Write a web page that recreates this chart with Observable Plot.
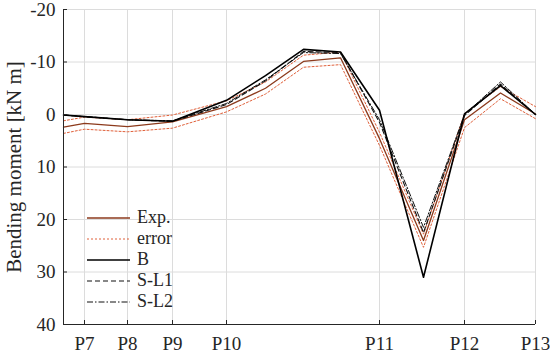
<!DOCTYPE html>
<html>
<head>
<meta charset="utf-8">
<script src="https://cdn.jsdelivr.net/npm/d3@7"></script>
<script src="https://cdn.jsdelivr.net/npm/@observablehq/plot@0.6"></script>
<style>
  html, body { margin: 0; padding: 0; background: #fff; }
  #wrap { position: relative; width: 550px; height: 355px; font-family: "Liberation Serif", "Times New Roman", serif; }
  #chart svg, #chart svg text { font-family: "Liberation Serif", "Times New Roman", serif !important; }
  #legend { position: absolute; left: 86px; top: 207px; font-size: 18px; color: #262626; line-height: 21px; }
  #legend .row { display: flex; align-items: center; height: 21px; }
  #legend svg { margin-right: 6px; }
</style>
</head>
<body>
<div id="wrap"><div id="chart"></div><div id="legend"></div></div>
<script>
// positions along the beam (arbitrary units)
const xPos = [0, 21, 64, 109, 163, 202, 240, 277, 316, 360, 401, 437, 472];
const xTickPos = [21, 64, 109, 163, 316, 401, 472];
const xTickLabels = ["P7", "P8", "P9", "P10", "P11", "P12", "P13"];
const yTicks = [-20, -10, 0, 10, 20, 30, 40];
const yLabel = "Bending moment [kN m]";

const expVals  = [2.4, 1.7, 2.3, 1.4, -1.5, -5.0, -10.1, -10.8, 4.6, 24.0, 1.0, -4.1, -0.1];
const errUpper = [1.2, 0.5, 1.0, 0.1, -2.6, -6.2, -11.3, -11.9, 3.4, 22.8, -0.2, -5.3, -1.5];
const errLower = [3.6, 2.8, 3.3, 2.6, -0.5, -3.9, -9.0, -9.5, 5.9, 25.3, 2.5, -3.0, 0.8];
const bVals    = [0.1, 0.4, 1.0, 1.3, -2.7, -7.4, -12.4, -11.9, -0.8, 31.0, -0.1, -5.5, 0.0];
const sl1Vals  = [0.1, 0.4, 1.0, 1.3, -1.9, -6.4, -12.0, -11.8, 1.5, 22.5, 0.2, -5.8, 0.0];
const sl2Vals  = [0.1, 0.4, 1.0, 1.2, -2.1, -6.6, -11.8, -11.6, 1.0, 21.5, 0.0, -6.2, 0.0];

const expColor = "#8c3a1c";
const errColor = "#e0603a";
const serif = "Liberation Serif";

const toRows = vals => vals.map((v, i) => ({x: xPos[i], y: v}));

const chart = Plot.plot({
  width: 550,
  height: 355,
  marginLeft: 63,
  marginRight: 15,
  marginTop: 9,
  marginBottom: 31,
  style: "font-family: 'Liberation Serif', serif; font-size: 19px; color: #262626; background: #fff;",
  x: {domain: [0, 472]},
  y: {domain: [-20, 40], reverse: true},
  marks: [
    Plot.gridX(xTickPos, {stroke: "#dcdcdc", strokeOpacity: 1}),
    Plot.gridY(yTicks, {stroke: "#dcdcdc", strokeOpacity: 1}),
    Plot.line(toRows(errUpper), {x: "x", y: "y", stroke: errColor, strokeWidth: 1, strokeDasharray: "2,2"}),
    Plot.line(toRows(errLower), {x: "x", y: "y", stroke: errColor, strokeWidth: 1, strokeDasharray: "2,2"}),
    Plot.line(toRows(expVals), {x: "x", y: "y", stroke: expColor, strokeWidth: 1.3}),
    Plot.line(toRows(sl2Vals), {x: "x", y: "y", stroke: "#111", strokeWidth: 1, strokeDasharray: "6,2,1.5,2"}),
    Plot.line(toRows(sl1Vals), {x: "x", y: "y", stroke: "#111", strokeWidth: 1.1, strokeDasharray: "5,3"}),
    Plot.line(toRows(bVals), {x: "x", y: "y", stroke: "#000", strokeWidth: 1.6}),
    Plot.ruleX([0], {stroke: "#262626"}),
    Plot.ruleY([40], {stroke: "#262626"}),
    Plot.axisX(xTickPos, {tickFormat: (d, i) => xTickLabels[i], tickSize: -4, tickPadding: 16, stroke: "#262626",
      fontSize: 19, fontFamily: serif, fill: "#262626", label: null}),
    Plot.axisY(yTicks, {tickFormat: d => String(d), tickSize: -4, tickPadding: 12, stroke: "#262626",
      fontSize: 19, fontFamily: serif, fill: "#262626", label: null}),
    Plot.text([yLabel], {text: d => d, frameAnchor: "left", textAnchor: "middle", rotate: -90, dx: -49,
      fontSize: 21, fontFamily: serif, fill: "#262626"})
  ]
});
document.getElementById("chart").appendChild(chart);

// legend
const legendItems = [
  {name: "Exp.", color: expColor, dash: null, w: 1.3},
  {name: "error", color: errColor, dash: "2,2", w: 1},
  {name: "B", color: "#000", dash: null, w: 1.6},
  {name: "S-L1", color: "#111", dash: "5,3", w: 1.1},
  {name: "S-L2", color: "#111", dash: "6,2,1.5,2", w: 1}
];
const leg = d3.select("#legend");
legendItems.forEach(it => {
  const row = leg.append("div").attr("class", "row");
  const s = row.append("svg").attr("width", 45).attr("height", 21);
  s.append("line").attr("x1", 1).attr("x2", 44).attr("y1", 11).attr("y2", 11)
    .attr("stroke", it.color).attr("stroke-width", it.w).attr("stroke-dasharray", it.dash);
  row.append("span").text(it.name);
});
</script>
</body>
</html>
